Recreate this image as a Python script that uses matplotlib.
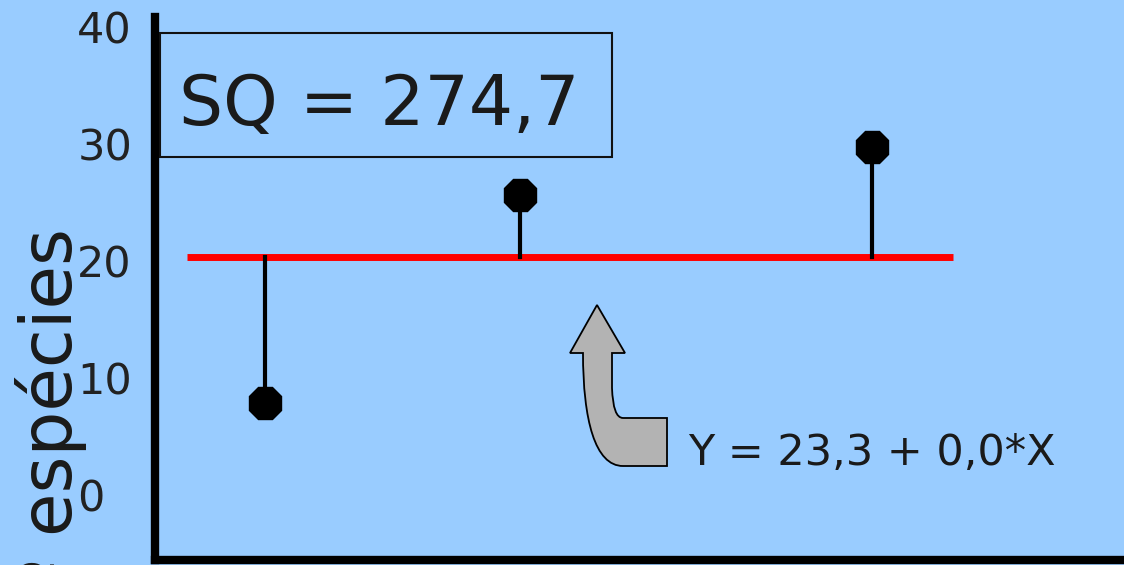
import matplotlib
matplotlib.use("Agg")
import matplotlib.pyplot as plt
from matplotlib.path import Path
import matplotlib.patches as patches

# values
x_vals = [1.14, 3.77, 7.40]
y_vals = [7.9, 25.6, 29.7]
mean_level = 20.3
line_x = [0.33, 8.24]
y_ticks = [0, 10, 20, 30, 40]
sq_label = "SQ = 274,7"
eq_label = "Y = 23,3 + 0,0*X"
y_label = "Nº espécies"

W, H = 1124, 565
bg = "#99ccff"
plt.rcParams["font.family"] = ["DejaVu Sans"]


def fx(px):
    return px / W


def fy(py):
    return 1 - py / H


fig = plt.figure(figsize=(W / 100, H / 100), dpi=100, facecolor=bg)
ax = fig.add_axes([fx(155), fy(560), 1 - fx(155), fy(17) - fy(560)])
ax.set_facecolor(bg)
ax.set_xlim(0, 10)
ax.set_ylim(-5.56, 40.85)

for s in ["top", "right"]:
    ax.spines[s].set_visible(False)
for s in ["left", "bottom"]:
    ax.spines[s].set_linewidth(6)
    ax.spines[s].set_color("black")

ax.set_xticks([])
ax.set_yticks(y_ticks)
ax.set_yticklabels([str(t) for t in y_ticks])
# labels in the reference are left aligned, starting around x=77 px
ax.tick_params(axis="y", length=0, pad=56, labelsize=31, labelcolor="#222222")
for lab in ax.get_yticklabels():
    lab.set_horizontalalignment("left")

# mean line and residual stems
ax.plot(line_x, [mean_level, mean_level], color="red", lw=5, solid_capstyle="butt", zorder=2)
for x, y in zip(x_vals, y_vals):
    ax.plot([x, x], [mean_level, y], color="black", lw=3, zorder=3)
ax.plot(x_vals, y_vals, ls="none", marker="8", markersize=25, color="black", zorder=4)

# SQ box
rect = patches.Rectangle((fx(160), fy(157)), fx(612) - fx(160), fy(33) - fy(157),
                         transform=fig.transFigure, facecolor="none",
                         edgecolor="#111111", linewidth=1.5)
fig.add_artist(rect)
fig.text(fx(379), fy(125), sq_label, ha="center", va="baseline",
         fontsize=50, color="#1a1a1a")

# curved arrow pointing at the mean line
pts = [(597, 305), (625, 353), (612, 353), (612, 388), (613, 418), (623, 418),
       (667, 418), (667, 466), (623, 466), (595, 466), (583, 420), (583, 353),
       (570, 353), (597, 305)]
codes = [Path.MOVETO, Path.LINETO, Path.LINETO, Path.LINETO, Path.CURVE3, Path.CURVE3,
         Path.LINETO, Path.LINETO, Path.LINETO, Path.CURVE4, Path.CURVE4, Path.CURVE4,
         Path.LINETO, Path.CLOSEPOLY]
arrow = patches.PathPatch(Path([(fx(a), fy(b)) for a, b in pts], codes),
                          transform=fig.transFigure, facecolor="#b3b3b3",
                          edgecolor="black", linewidth=1.3)
fig.add_artist(arrow)

fig.text(fx(688), fy(465), eq_label, ha="left", va="baseline",
         fontsize=31, color="#1a1a1a")

fig.text(fx(72), fy(228), y_label, rotation=90, rotation_mode="anchor",
         ha="right", va="baseline", fontsize=51, color="#1a1a1a")

fig.savefig("out.png", dpi=100, facecolor=bg)
